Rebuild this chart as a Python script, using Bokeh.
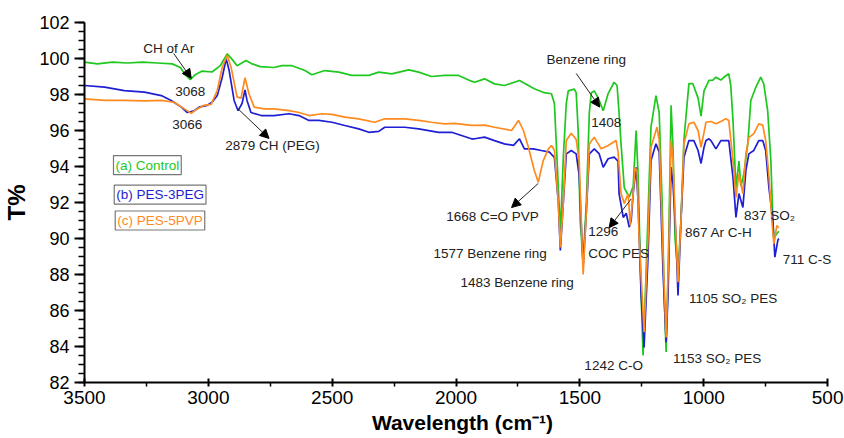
from bokeh.plotting import figure
from bokeh.models import Range1d, Label, Arrow, NormalHead, FixedTicker
from bokeh.embed import file_html
from bokeh.resources import INLINE

# ---------------- data ----------------
wn_control = [3500, 3448, 3387, 3327, 3266, 3206, 3146, 3113, 3093, 3073, 3053, 3025, 2985, 2952,
              2924, 2904, 2884, 2848, 2823, 2791, 2735, 2703, 2662, 2610, 2582, 2530, 2473, 2421,
              2352, 2312, 2260, 2191, 2151, 2099, 2046, 1990, 1938, 1925, 1885, 1845, 1805, 1744,
              1684, 1644, 1615, 1603, 1591, 1579, 1567, 1555, 1547, 1523, 1515, 1507, 1499, 1487,
              1474, 1462, 1454, 1442, 1426, 1406, 1386, 1362, 1350, 1342, 1334, 1321, 1309, 1301,
              1285, 1273, 1265, 1253, 1245, 1233, 1221, 1213, 1193, 1180, 1168, 1160, 1152, 1144,
              1136, 1132, 1124, 1116, 1104, 1092, 1080, 1060, 1044, 1023, 1011, 999, 979, 963, 951,
              931, 915, 899, 891, 882, 870, 858, 850, 838, 822, 810, 790, 770, 758, 742, 729, 721,
              717, 709, 697]
t_control = [99.8, 99.7, 99.8, 99.75, 99.8, 99.75, 99.7, 99.5, 99.1, 98.82, 99.1, 99.3, 99.25, 99.6,
             100.26, 99.95, 99.6, 99.89, 99.7, 99.55, 99.5, 99.6, 99.6, 99.33, 99.1, 99.33, 99.24, 99.06,
             99.06, 99.24, 99.15, 99.37, 99.24, 99.0, 99.06, 99.06, 98.74, 98.68, 98.87, 98.59, 98.5, 98.78,
             98.32, 98.1, 98.04, 97.5, 94.0, 90.3, 94.5, 97.5, 98.2, 98.3, 98.1, 96.0, 91.0, 88.7,
             92.0, 97.0, 98.1, 98.2, 97.8, 97.1, 98.05, 98.68, 98.5, 97.0, 95.27, 92.83, 92.5, 92.3,
             92.9, 96.0, 93.5, 87.0, 83.5, 88.0, 93.0, 96.2, 97.94, 97.0, 92.0, 87.0, 83.7, 88.0,
             94.0, 97.4, 95.0, 90.0, 88.05, 91.0, 95.5, 98.6, 98.6, 97.8, 96.8, 98.2, 98.78, 98.8, 98.96,
             98.8, 99.0, 99.15, 98.5, 96.56, 92.8, 94.3, 92.9, 93.6, 95.3, 97.67, 98.4, 98.96, 98.6, 97.1, 94.3, 91.0,
             89.9, 90.2, 90.4]

wn_peg = [3500, 3419, 3339, 3258, 3190, 3150, 3109, 3085, 3057, 3037, 3005, 2985, 2964, 2944, 2928,
          2916, 2896, 2880, 2864, 2852, 2844, 2828, 2787, 2735, 2674, 2634, 2594, 2554, 2501, 2449,
          2393, 2352, 2312, 2288, 2207, 2151, 2070, 2018, 1978, 1938, 1925, 1885, 1845, 1805, 1768,
          1744, 1724, 1688, 1656, 1623, 1603, 1587, 1579, 1567, 1555, 1535, 1515, 1503, 1487, 1474,
          1462, 1442, 1422, 1406, 1386, 1362, 1346, 1342, 1325, 1313, 1301, 1293, 1285, 1273, 1265,
          1253, 1241, 1225, 1213, 1193, 1180, 1164, 1152, 1144, 1132, 1124, 1112, 1104, 1092, 1080,
          1060, 1040, 1023, 1011, 999, 991, 979, 971, 951, 931, 911, 899, 882, 870, 858, 842, 830,
          818, 798, 778, 762, 750, 737, 721, 713, 701, 697]
t_peg = [98.5, 98.41, 98.22, 98.13, 97.94, 97.67, 97.3, 97.0, 97.1, 97.3, 97.4, 97.57, 97.94, 98.96, 99.98,
         99.33, 97.67, 97.1, 97.5, 98.26, 97.67, 97.0, 96.83, 96.83, 96.93, 96.83, 96.56, 96.56, 96.46, 96.28,
         96.09, 95.9, 95.95, 96.18, 96.18, 96.09, 95.9, 95.9, 95.72, 95.54, 95.54, 95.63, 95.44, 95.26, 95.17,
         95.54, 94.98, 94.98, 94.89, 94.8, 94.5, 92.0, 89.33, 92.0, 94.7, 94.89, 94.7, 93.5, 88.4, 91.5,
         94.7, 94.98, 94.7, 93.96, 94.43, 94.52, 94.3, 92.5, 91.17, 91.4, 90.63, 91.0, 92.5, 93.96, 92.0,
         86.9, 83.95, 89.0, 94.33, 95.26, 94.8, 88.0, 84.24, 87.0, 93.96, 93.0, 90.0, 86.83, 91.0, 94.52,
         95.44, 95.44, 94.89, 94.17, 95.07, 95.44, 95.54, 95.44, 94.98, 95.44, 95.44, 95.44, 93.4, 91.17, 92.5, 91.72, 93.78,
         94.7, 94.89, 95.44, 95.44, 94.89, 92.83, 91.0, 88.96, 89.9, 90.0]

wn_pvp = [3500, 3419, 3339, 3258, 3190, 3138, 3097, 3069, 3045, 3017, 2989, 2964, 2944, 2924, 2908,
          2884, 2868, 2852, 2836, 2815, 2775, 2735, 2674, 2634, 2594, 2542, 2501, 2449, 2393, 2328,
          2288, 2207, 2151, 2099, 2046, 2006, 1938, 1925, 1885, 1845, 1776, 1748, 1728, 1708, 1684,
          1668, 1648, 1627, 1615, 1603, 1587, 1579, 1567, 1555, 1535, 1515, 1503, 1487, 1474, 1462,
          1442, 1434, 1414, 1386, 1354, 1346, 1334, 1321, 1305, 1297, 1285, 1277, 1269, 1261, 1241,
          1225, 1213, 1189, 1180, 1164, 1152, 1140, 1132, 1124, 1112, 1104, 1092, 1080, 1060, 1040,
          1023, 1011, 999, 991, 971, 951, 931, 911, 899, 882, 870, 858, 842, 830, 818, 798, 778,
          762, 750, 737, 725, 717, 705, 697]
t_pvp = [97.76, 97.67, 97.67, 97.65, 97.67, 97.57, 97.2, 96.96, 97.2, 97.4, 97.45, 98.22, 99.5, 100.17, 99.5,
         97.85, 97.8, 98.93, 98.04, 97.3, 97.2, 97.2, 97.1, 97.0, 96.83, 96.93, 96.9, 96.74, 96.65, 96.46,
         96.65, 96.65, 96.56, 96.46, 96.37, 96.4, 96.28, 96.28, 96.3, 96.18, 96.0, 96.56, 96.0, 95.07, 93.78,
         93.13, 94.33, 94.98, 95.17, 94.9, 92.0, 89.5, 92.0, 95.44, 95.85, 95.5, 94.3, 88.0, 91.5, 95.26,
         95.63, 95.44, 94.98, 95.17, 95.44, 94.8, 92.5, 91.94, 92.5, 90.72, 92.5, 93.96, 93.7, 90.0, 84.8,
         90.0, 95.07, 96.18, 95.5, 89.0, 84.5, 90.0, 95.44, 94.3, 90.0, 87.57, 91.0, 95.26, 96.37, 96.46,
         96.0, 95.07, 95.9, 96.46, 96.5, 96.37, 96.5, 96.65, 96.55, 94.33, 92.28, 93.6, 92.5, 94.7, 95.6, 95.83, 96.37,
         96.3, 95.44, 93.5, 91.0, 89.7, 90.72, 90.6]

series_names = ["(a) Control", "(b) PES-3PEG", "(c) PES-5PVP"]
x_ticks = [3500, 3000, 2500, 2000, 1500, 1000, 500]
y_ticks = [82, 84, 86, 88, 90, 92, 94, 96, 98, 100, 102]

GREEN = "#1ec81e"
BLUE = "#1e1ed2"
ORANGE = "#ff8a1e"
FONT = "Liberation Sans"

# frame extends past 500 so that the right-hand note is not clipped; axis line stops at 500
p = figure(width=844, height=438, output_backend="svg", toolbar_location=None,
           x_range=Range1d(3500, 448), y_range=Range1d(82, 102),
           min_border_left=82, min_border_right=4, min_border_top=22, min_border_bottom=56)
p.outline_line_color = None
p.grid.visible = False
p.background_fill_color = "white"

p.line(wn_control, t_control, color=GREEN, line_width=1.7)
p.line(wn_peg, t_peg, color=BLUE, line_width=1.7)
p.line(wn_pvp, t_pvp, color=ORANGE, line_width=1.7)

p.xaxis.ticker = FixedTicker(ticks=x_ticks, minor_ticks=[x + 250 for x in x_ticks[1:]])
p.yaxis.ticker = FixedTicker(ticks=y_ticks, minor_ticks=[82 + 0.5 * i for i in range(41)])
p.xaxis.bounds = (500, 3500)

for ax in (p.xaxis[0], p.yaxis[0]):
    ax.axis_line_width = 2
    ax.axis_line_color = "black"
    ax.major_tick_line_width = 2
    ax.minor_tick_line_width = 1.5
    ax.major_label_text_font = FONT
    ax.major_label_text_color = "black"
    ax.axis_label_text_font = FONT
    ax.axis_label_text_font_style = "bold"
    ax.axis_label_text_color = "black"

p.xaxis.major_tick_in = 4
p.xaxis.major_tick_out = 4
p.xaxis.minor_tick_in = 0
p.xaxis.minor_tick_out = 4
p.xaxis.major_label_text_font_size = "19px"
p.xaxis.major_label_standoff = 4
p.xaxis.axis_label = "Wavelength (cm\u207b\u00b9)"
p.xaxis.axis_label_text_font_size = "21px"
p.xaxis.axis_label_standoff = 4

p.yaxis.major_tick_in = 0
p.yaxis.major_tick_out = 10
p.yaxis.minor_tick_in = 0
p.yaxis.minor_tick_out = 6
p.yaxis.major_label_text_font_size = "18px"
p.yaxis.major_label_standoff = 5
p.yaxis.axis_label = "T%"
p.yaxis.axis_label_text_font_size = "24px"
p.yaxis.axis_label_standoff = 6

# legend boxes
legend_pos = [(3383, 94.08), (3380, 92.44), (3376, 91.0)]
for name, col, (lx, ly) in zip(series_names, [GREEN, BLUE, ORANGE], legend_pos):
    p.add_layout(Label(x=lx, y=ly, text=name, text_font=FONT, text_font_size="13.5px",
                       text_color=col, text_baseline="middle", text_align="left",
                       border_line_color="#777777", border_line_width=1.2,
                       background_fill_color="white", padding=2))

# peak annotations
notes = [
    ("CH of Ar", 3158, 100.56, "center"),
    ("3068", 3073, 98.17, "center"),
    ("3066", 3085, 96.33, "center"),
    ("2879 CH (PEG)", 2932, 95.14, "left"),
    ("Benzene ring", 1474, 99.92, "center"),
    ("1408", 1394, 96.44, "center"),
    ("1668 C=O PVP", 1853, 91.25, "center"),
    ("1296", 1406, 90.39, "center"),
    ("837 SO\u2082", 838, 91.3, "left"),
    ("867 Ar C-H", 1076, 90.36, "left"),
    ("1577 Benzene ring", 2091, 89.19, "left"),
    ("COC PES", 1466, 89.19, "left"),
    ("711  C-S", 681, 88.83, "left"),
    ("1483 Benzene ring", 1982, 87.56, "left"),
    ("1105 SO\u2082 PES", 1060, 86.69, "left"),
    ("1242 C-O", 1482, 82.92, "left"),
    ("1153 SO\u2082 PES", 1124, 83.36, "left"),
]
for txt, nx, ny, al in notes:
    p.add_layout(Label(x=nx, y=ny, text=txt, text_font=FONT, text_font_size="13.5px",
                       text_color="#222222", text_baseline="middle", text_align=al))

arrows = [
    (3140, 100.28, 3069, 98.9),
    (2880, 97.2, 2755, 95.56),
    (1515, 99.17, 1420, 97.3),
    (1668, 93.06, 1776, 91.72),
    (1293, 92.2, 1382, 90.6),
]
for xs, ys, xe, ye in arrows:
    p.add_layout(Arrow(x_start=xs, y_start=ys, x_end=xe, y_end=ye, line_width=1, line_color="#222222",
                       end=NormalHead(size=9, fill_color="black", line_color="black")))

open("out.html", "w").write(file_html(p, INLINE))
